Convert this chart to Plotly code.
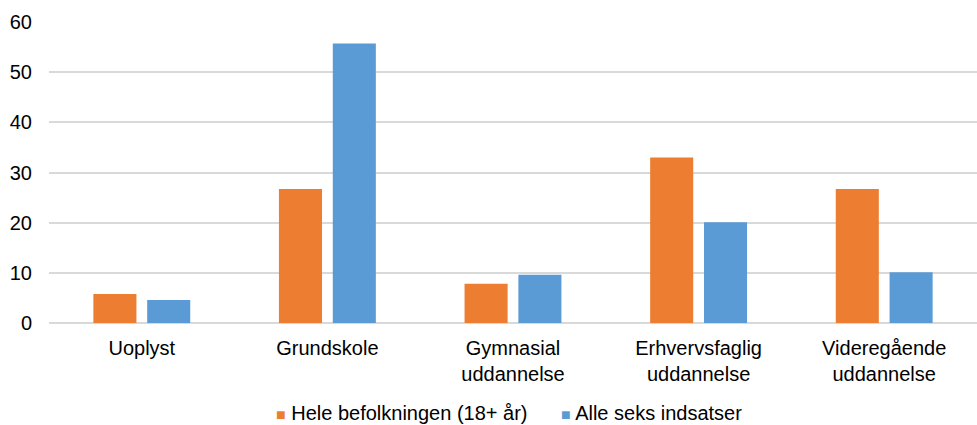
import plotly.graph_objects as go

categories = ["Uoplyst", "Grundskole", "Gymnasial<br>uddannelse", "Erhvervsfaglig<br>uddannelse", "Videregående<br>uddannelse"]
series_names = ["Hele befolkningen (18+ år)", "Alle seks indsatser"]
hele = [5.8, 26.7, 7.8, 33.0, 26.7]
alle = [4.6, 55.7, 9.6, 20.1, 10.1]
colors = ["#ED7D31", "#5B9BD5"]
y_ticks = [0, 10, 20, 30, 40, 50, 60]

FS = 20
font = dict(family="Liberation Sans, Arial, sans-serif", size=FS, color="#000000")

fig = go.Figure()
for name, vals, c in zip(series_names, [hele, alle], colors):
    fig.add_trace(go.Bar(x=categories, y=vals, name=name, marker=dict(color=c, line=dict(width=0)),
                         showlegend=False))

# legend drawn as text annotations (colored square + label)
L, W = 49, 928
legend_px = [274, 559]
for name, c, px in zip(series_names, colors, legend_px):
    fig.add_annotation(
        xref="paper", yref="paper", x=(px - L) / W, y=-0.298, xanchor="left", yanchor="middle",
        showarrow=False, font=font,
        text=f"<span style='color:{c};font-size:16px'>■</span> {name}",
    )

fig.update_layout(
    width=977, height=425,
    margin=dict(l=49, r=0, t=22, b=102),
    paper_bgcolor="white", plot_bgcolor="white",
    font=font,
    barmode="group", bargap=0.42, bargroupgap=0.2,
    showlegend=False,
    xaxis=dict(showgrid=False, showline=False, ticks="", tickfont=font, ticklabelstandoff=11),
    yaxis=dict(range=[0, 60], tickvals=y_ticks, showgrid=True, gridcolor="#D9D9D9", gridwidth=1.5,
               zeroline=True, zerolinecolor="#D9D9D9", zerolinewidth=1.5, ticks="", tickfont=font,
               ticklabelstandoff=16),
)
fig.write_html("out.html", config={"displayModeBar": False},
               post_script="document.body.style.margin='0';")
